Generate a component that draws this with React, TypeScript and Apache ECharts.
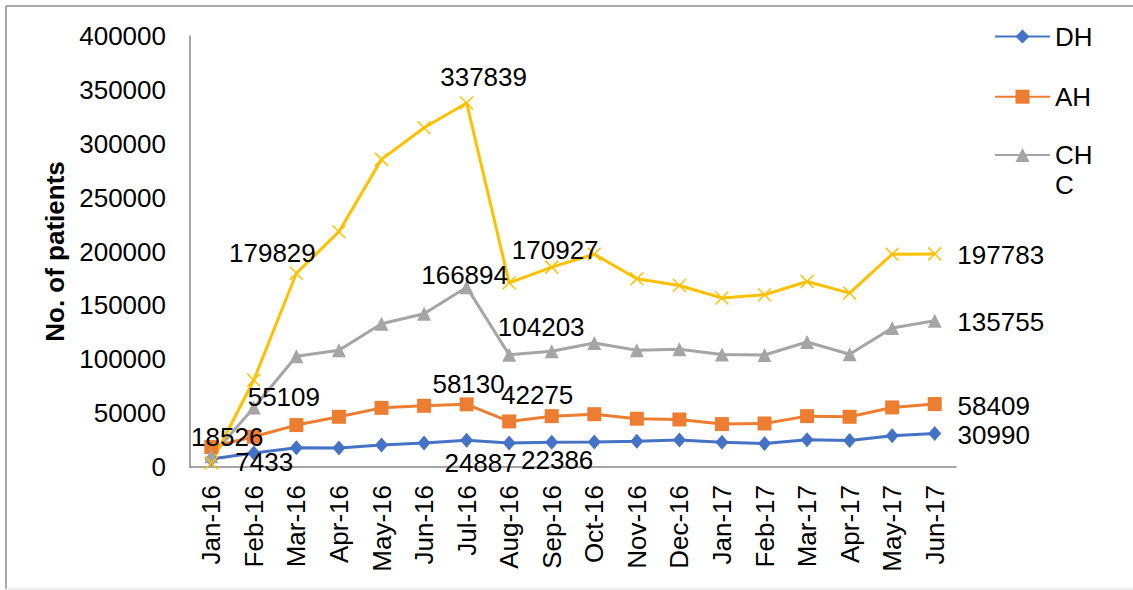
import React, { useEffect, useRef } from 'react';
import * as echarts from 'echarts';

const categories = ['Jan-16', 'Feb-16', 'Mar-16', 'Apr-16', 'May-16', 'Jun-16', 'Jul-16', 'Aug-16', 'Sep-16', 'Oct-16', 'Nov-16', 'Dec-16', 'Jan-17', 'Feb-17', 'Mar-17', 'Apr-17', 'May-17', 'Jun-17'];
const dhValues = [7433, 13000, 17900, 17600, 20400, 22200, 24887, 22386, 23000, 23300, 23800, 25000, 22900, 21700, 25300, 24500, 29000, 30990];
const ahValues = [18526, 28100, 38900, 46600, 54900, 56800, 58130, 42275, 47200, 49000, 44800, 44100, 39800, 40400, 47200, 46600, 55300, 58409];
const chcValues = [10000, 55109, 102800, 108300, 133000, 142300, 166894, 104203, 107400, 115100, 108300, 109300, 104500, 104000, 116000, 104600, 129000, 135755];
const totalValues = [3700, 80700, 179829, 218400, 285500, 314900, 337839, 170927, 185500, 197500, 174700, 168500, 156800, 159900, 172200, 161400, 197500, 197783];
const yTicks = { min: 0, max: 400000, interval: 50000 };

// label placement (pixel offsets from the marker centre)
const labelOffsets: Record<string, Record<number, [number, number]>> = {
  DH: { 0: [53, 3], 6: [14, 23], 7: [48, 17], 17: [59, 1.5] },
  AH: { 0: [16, -10], 6: [2, -20], 7: [28, -26], 17: [59, 2] },
  CHC: { 1: [30, -11], 6: [-2, -12], 7: [32, -28], 17: [66, 1] },
  Total: { 2: [-24, -20], 6: [17, -26], 7: [46, -33], 17: [66, 1] },
};

const FONT = '"Liberation Sans", Arial, sans-serif';

function buildData(name: string, values: number[]) {
  return values.map((v, i) => {
    const off = labelOffsets[name][i];
    if (!off) return v;
    return { value: v, label: { show: true, position: 'inside', offset: off } };
  });
}

const baseLabel = {
  show: false,
  fontSize: 26,
  color: '#000',
  fontFamily: FONT,
  textBorderWidth: 0,
};

export default function App() {
  const ref = useRef<HTMLDivElement>(null);
  useEffect(() => {
    if (!ref.current) return;
    const chart = echarts.init(ref.current, undefined, { renderer: 'svg' });
    const legendCommon = {
      orient: 'vertical',
      left: 994,
      padding: 0,
      itemWidth: 55,
      itemHeight: 17.5,
      itemGap: 5,
      textStyle: { fontSize: 26, color: '#000', fontFamily: FONT },
    };
    chart.setOption({
      animation: false,
      backgroundColor: '#fff',
      textStyle: { fontFamily: FONT },
      graphic: [
        { type: 'line', shape: { x1: 6, y1: 6, x2: 1133, y2: 6 }, style: { stroke: '#8c8c8c', lineWidth: 1.5 } },
        { type: 'line', shape: { x1: 6, y1: 6, x2: 6, y2: 589 }, style: { stroke: '#8c8c8c', lineWidth: 1.5 } },
        { type: 'line', shape: { x1: 6, y1: 589, x2: 1133, y2: 589 }, style: { stroke: '#e6e6e6', lineWidth: 1.5 } },
      ],
      legend: [
        { ...legendCommon, top: 23.5, data: ['DH'] },
        { ...legendCommon, top: 83.7, data: ['AH'] },
        {
          ...legendCommon,
          top: 110,
          data: ['CHC'],
          formatter: () => ' \nCH\nC',
          textStyle: { ...legendCommon.textStyle, lineHeight: 30 },
        },
      ],
      grid: { left: 190, right: 177, top: 36, bottom: 123, containLabel: false },
      xAxis: {
        type: 'category',
        data: categories,
        boundaryGap: true,
        axisLine: { lineStyle: { color: '#898989', width: 1.5 } },
        axisTick: { show: false },
        axisLabel: { rotate: 90, margin: 18, fontSize: 26, color: '#000', interval: 0, fontFamily: FONT },
      },
      yAxis: {
        type: 'value',
        min: yTicks.min,
        max: yTicks.max,
        interval: yTicks.interval,
        name: 'No. of patients',
        nameLocation: 'middle',
        nameGap: 117,
        nameTextStyle: { fontSize: 26, fontWeight: 'bold', color: '#000', fontFamily: FONT },
        axisLine: { show: true, lineStyle: { color: '#898989', width: 1.5 } },
        axisTick: { show: false },
        splitLine: { show: false },
        axisLabel: { fontSize: 26, color: '#000', margin: 24, fontFamily: FONT, formatter: (v: number) => String(v) },
      },
      series: [
        {
          name: 'DH', type: 'line', data: buildData('DH', dhValues),
          symbol: 'diamond', symbolSize: [13, 15],
          lineStyle: { width: 3, color: '#4472C4' }, itemStyle: { color: '#4472C4' },
          label: baseLabel,
        },
        {
          name: 'AH', type: 'line', data: buildData('AH', ahValues),
          symbol: 'rect', symbolSize: 14,
          lineStyle: { width: 3, color: '#ED7D31' }, itemStyle: { color: '#ED7D31' },
          label: baseLabel,
        },
        {
          name: 'CHC', type: 'line', data: buildData('CHC', chcValues),
          symbol: 'triangle', symbolSize: 14,
          lineStyle: { width: 3, color: '#A5A5A5' }, itemStyle: { color: '#A5A5A5' },
          label: baseLabel,
        },
        {
          name: 'Total', type: 'line', data: buildData('Total', totalValues),
          symbol: 'path://M0,0L10,10M10,0L0,10', symbolSize: 13,
          lineStyle: { width: 3, color: '#FFC000' },
          itemStyle: { color: '#FFC000', borderColor: '#FFC000', borderWidth: 1.5 },
          label: baseLabel,
        },
      ],
    });
    return () => chart.dispose();
  }, []);
  return <div ref={ref} style={{ position: 'absolute', left: 0, top: 0, width: 1133, height: 590 }} />;
}
